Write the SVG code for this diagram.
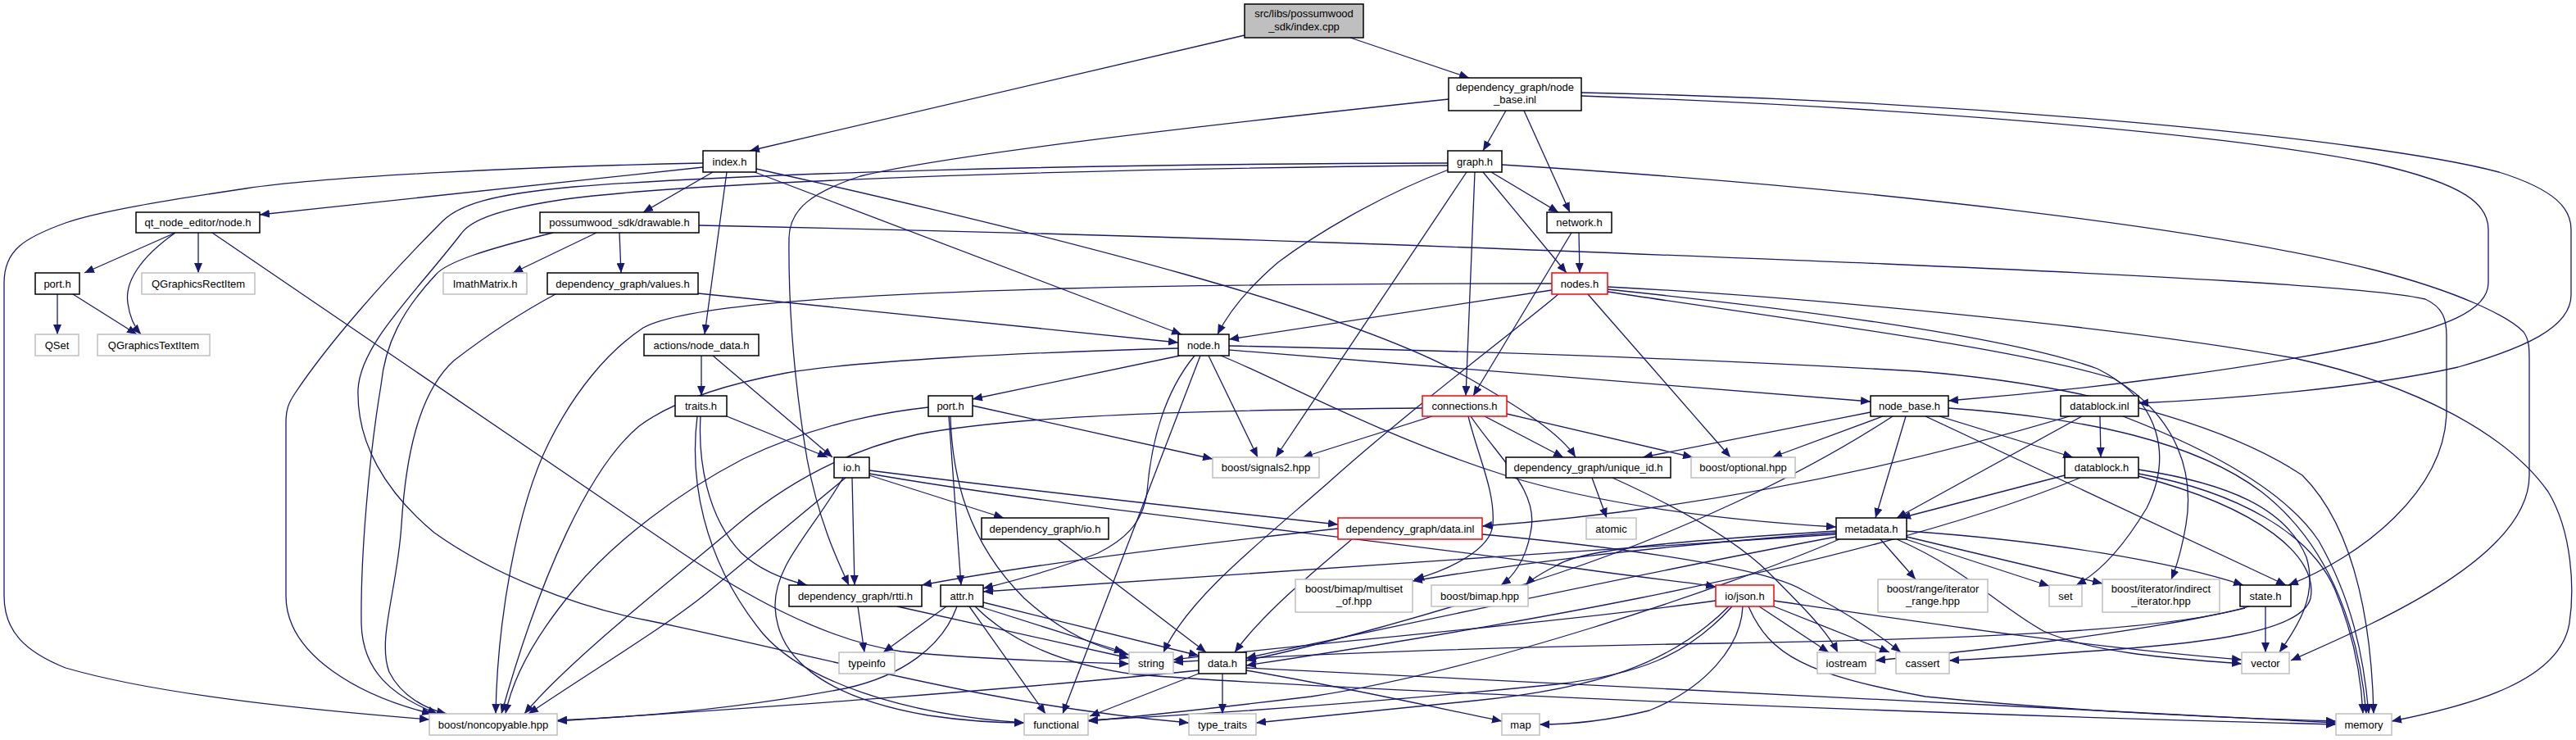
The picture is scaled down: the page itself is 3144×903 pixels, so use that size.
<svg xmlns="http://www.w3.org/2000/svg" width="3144" height="903" viewBox="0 0 3144 903">
<style>
.n rect{fill:#fff;stroke:#000;stroke-width:1.5}
.g rect{stroke:#bfbfbf}
.r rect{stroke:#ff0000}
.s rect{fill:#bfbfbf}
text{font-family:"Liberation Sans",Arial,sans-serif;font-size:13px;text-anchor:middle;fill:#000}
.e path{fill:none;stroke:#191970;stroke-width:1.3;marker-end:url(#a)}
</style>
<defs>
<marker id="a" markerWidth="12" markerHeight="10" refX="12" refY="5" orient="auto" markerUnits="userSpaceOnUse"><path d="M0,0 L12,5 L0,10 z" fill="#191970"/></marker>
</defs>
<rect width="3144" height="903" fill="#fff"/>
<g class="e" id="edges">
<path d="M1519,43 L915,184"/>
<path d="M1648,46 L1793,95"/>
<path d="M1838,135 L1810,184"/>
<path d="M1860,135 L1916,259"/>
<path d="M1768,121 C1450,155 1150,190 1050,215 C990,235 964,255 963,290 C962,380 970,470 985,560 C1000,640 1025,690 1036,714"/>
<path d="M1930,117 C2300,130 2700,160 2900,200 C3010,225 3037,250 3037,280 L3037,345 C3037,380 2980,400 2900,418 C2750,450 2550,475 2378,489"/>
<path d="M1930,113 C2400,122 2900,170 3050,210 C3120,232 3138,255 3138,280 L3138,360 C3138,400 3080,425 3000,448 C2880,475 2700,488 2610,492"/>
<path d="M858,204 L317,262"/>
<path d="M858,199 C650,203 400,215 300,230 C200,245 120,258 80,272 C30,290 5,305 5,345 L5,727 C5,770 30,795 80,815 C200,850 400,868 524,878"/>
<path d="M870,210 L785,259"/>
<path d="M887,210 L860,408"/>
<path d="M921,210 L1442,408"/>
<path d="M923,206 C1300,290 1650,380 1790,460 C1860,500 1905,530 1923,558"/>
<path d="M1767,199 C1300,200 900,212 700,228 C600,237 560,250 540,270 C470,340 400,420 360,480 C352,492 349,500 349,515 L349,727 C349,800 440,850 527,871"/>
<path d="M1767,202 C1300,206 850,222 690,243 C610,255 575,268 563,285 C505,360 440,420 437,475 C435,540 470,600 530,650 C600,700 700,740 790,757 C1000,800 1200,860 1451,882"/>
<path d="M1768,207 C1680,240 1600,290 1560,320 C1525,350 1500,380 1486,408"/>
<path d="M1820,210 L1902,259"/>
<path d="M1810,210 L1912,333"/>
<path d="M1800,210 L1789,483"/>
<path d="M1790,210 L1557,558"/>
<path d="M1833,201 C2300,230 2700,280 2900,330 C3000,356 3060,385 3080,405 C3087,415 3087,425 3087,440 L3087,580 C3087,680 2900,760 2796,806"/>
<path d="M853,275 C1500,288 2000,310 2300,322 C2600,335 2900,350 2960,365 C2982,375 2986,390 2986,410 L2986,500 C2986,600 2880,680 2793,714"/>
<path d="M728,284 L626,333"/>
<path d="M756,284 L758,333"/>
<path d="M675,284 C590,305 545,320 532,335 C490,380 470,420 465,470 C450,560 440,680 441,760 C442,820 480,850 534,871"/>
<path d="M852,358 L1438,418"/>
<path d="M678,359 C620,390 580,420 554,440 C510,480 495,560 490,640 C485,720 460,780 475,820 C490,850 520,865 545,871"/>
<path d="M214,284 L103,333"/>
<path d="M242,284 L242,333"/>
<path d="M214,284 C170,315 152,345 156,370 C158,385 163,398 172,408"/>
<path d="M259,284 L830,673 C900,720 1000,780 1100,795 C1200,805 1300,808 1378,810"/>
<path d="M70,359 L70,408"/>
<path d="M89,359 L167,408"/>
<path d="M856,434 L856,483"/>
<path d="M870,434 L1016,558"/>
<path d="M887,508 L1010,558"/>
<path d="M855,508 C852,560 862,630 905,675 C930,698 960,708 985,714"/>
<path d="M851,508 C842,580 855,680 931,773 C980,830 1100,872 1250,882"/>
<path d="M1894,354 L1500,414"/>
<path d="M1894,346 C1700,346 1500,347 1300,352 C1000,360 830,375 785,400 C740,430 700,480 670,540 C630,620 607,760 605,871"/>
<path d="M1938,359 L2112,558"/>
<path d="M1902,359 C1860,395 1720,500 1620,590 C1540,660 1450,730 1420,796"/>
<path d="M1962,350 C2200,362 2600,400 2800,437 C2950,470 3060,530 3110,600 C3140,650 3142,720 3136,760 C3125,830 3020,860 2919,880"/>
<path d="M1962,353 C2200,378 2450,410 2560,450 C2640,490 2650,560 2620,620 C2590,670 2560,700 2534,714"/>
<path d="M1962,356 C2200,392 2460,425 2580,462 C2660,510 2678,580 2668,640 C2662,675 2655,695 2650,707"/>
<path d="M1927,284 L1928,333"/>
<path d="M1918,284 L1798,483"/>
<path d="M1748,508 L1590,558"/>
<path d="M1812,508 L1908,558"/>
<path d="M1839,505 L2066,558"/>
<path d="M1792,508 C1805,560 1825,600 1822,640 C1820,670 1770,695 1726,707"/>
<path d="M1795,508 C1830,560 1880,600 1868,650 C1862,685 1845,705 1832,714"/>
<path d="M1736,498 C1500,500 1250,505 1120,530 C1030,550 960,590 900,640 C830,700 700,800 640,871"/>
<path d="M1440,434 L1187,487"/>
<path d="M1475,434 L1535,558"/>
<path d="M1465,434 L1297,871"/>
<path d="M1458,434 C1420,480 1405,540 1400,600 C1395,640 1370,660 1340,675 C1290,695 1240,708 1200,718"/>
<path d="M1438,425 C1250,430 1050,440 960,455 C880,470 820,490 780,520 C720,570 660,700 612,871"/>
<path d="M1500,427 C1800,450 2100,475 2283,490"/>
<path d="M1490,434 C1560,462 1680,530 1837,580 C1950,615 2100,635 2241,643"/>
<path d="M1500,422 C1900,430 2200,445 2340,453 C2550,470 2720,520 2810,580 C2880,650 2895,780 2897,871"/>
<path d="M1187,495 L1480,560"/>
<path d="M1158,508 L1173,714"/>
<path d="M1160,508 C1162,580 1180,660 1250,730 C1300,775 1340,790 1378,799"/>
<path d="M1133,497 C1060,505 980,525 907,560 C830,600 750,660 700,720 C650,780 625,830 617,871"/>
<path d="M1061,580 L1225,632"/>
<path d="M1061,574 C1250,598 1450,620 1633,640"/>
<path d="M1061,578 C1300,620 1700,660 1900,690 C2000,705 2060,710 2094,716"/>
<path d="M1040,583 L1043,714"/>
<path d="M1029,583 C990,650 945,690 946,740 C948,800 1000,850 1133,873 C1180,880 1220,882 1250,882"/>
<path d="M1032,583 L867,720 C820,760 720,820 645,871"/>
<path d="M1291,658 L1472,796"/>
<path d="M1633,645 C1450,665 1250,690 1125,714"/>
<path d="M1650,658 C1600,700 1540,750 1507,796"/>
<path d="M1809,652 C1950,665 2150,690 2200,720 C2260,750 2300,780 2320,796"/>
<path d="M1943,583 L1961,632"/>
<path d="M1968,583 C2050,620 2120,660 2160,700 C2200,740 2230,770 2243,796"/>
<path d="M2283,503 L2005,558"/>
<path d="M2298,508 L2163,558"/>
<path d="M2326,508 L2289,632"/>
<path d="M2367,508 L2530,558"/>
<path d="M2350,508 L2790,714"/>
<path d="M2378,498 C2550,510 2680,540 2760,600 C2850,670 2880,780 2888,871"/>
<path d="M2310,508 C2200,580 2050,650 1900,700 C1750,750 1600,790 1521,806"/>
<path d="M2563,508 L2564,558"/>
<path d="M2526,508 C2350,560 2100,620 1809,642"/>
<path d="M2541,508 L2315,632"/>
<path d="M2591,508 C2700,550 2790,600 2830,660 C2870,730 2885,800 2891,871"/>
<path d="M2520,580 L2320,632"/>
<path d="M2539,583 C2400,640 2200,690 2000,730 C1800,770 1600,800 1521,812"/>
<path d="M2610,573 C2720,590 2790,620 2815,680 C2830,730 2800,770 2782,796"/>
<path d="M2610,578 C2730,600 2820,650 2850,720 C2875,780 2882,830 2884,871"/>
<path d="M2610,581 C2760,620 2830,680 2820,730 C2810,770 2700,785 2545,795 C2480,800 2420,804 2379,806"/>
<path d="M2295,658 L2338,707"/>
<path d="M2326,658 L2501,715"/>
<path d="M2327,655 L2566,712"/>
<path d="M2327,648 C2500,660 2650,685 2738,714"/>
<path d="M2315,658 C2400,695 2440,740 2494,770 C2560,800 2680,805 2736,810"/>
<path d="M2241,648 C2050,660 1930,670 1900,690 C1880,700 1868,708 1862,714"/>
<path d="M2241,650 C2000,668 1850,688 1724,709"/>
<path d="M2241,652 C1900,675 1500,700 1200,722"/>
<path d="M2241,655 C2000,700 1700,765 1521,803"/>
<path d="M2245,658 C2100,720 1800,820 1600,850 C1450,868 1380,875 1328,880"/>
<path d="M2147,740 L2232,796"/>
<path d="M2165,740 L2306,796"/>
<path d="M2094,733 C1900,760 1600,785 1432,805"/>
<path d="M2165,733 C2350,760 2550,790 2736,805"/>
<path d="M2127,740 C2125,790 2080,840 2013,867 C1960,880 1920,884 1879,884"/>
<path d="M2114,740 C2060,800 2000,823 1900,835 C1700,855 1500,870 1328,879"/>
<path d="M2110,740 C2040,810 1950,840 1800,855 C1700,865 1600,875 1533,882"/>
<path d="M2134,740 C2160,800 2205,823 2350,850 C2550,870 2750,877 2851,880"/>
<path d="M1463,818 C1200,845 900,865 680,880"/>
<path d="M1463,822 L1330,874"/>
<path d="M1492,822 L1492,871"/>
<path d="M1521,818 C1650,840 1760,865 1833,880"/>
<path d="M1521,815 C1900,830 2400,860 2851,882"/>
<path d="M1155,740 L1078,796"/>
<path d="M1195,740 L1372,796"/>
<path d="M1200,735 L1463,800"/>
<path d="M1183,740 L1276,871"/>
<path d="M1168,740 C1150,790 1100,825 1032,840 C900,865 780,875 680,879"/>
<path d="M1190,740 C1230,780 1290,810 1385,823 C1600,840 2300,870 2851,884"/>
<path d="M1047,740 L1055,796"/>
<path d="M1095,740 L1378,803"/>
<path d="M2765,740 L2765,796"/>
<path d="M2745,740 C2650,770 2400,780 2100,785 C1800,790 1600,798 1432,808"/>
<path d="M2740,742 C2600,775 2400,795 2289,806"/>
</g>
<g id="n_src" class="n s"><rect x="1519" y="5" width="145" height="41"/><text x="1591.5" y="21">src/libs/possumwood</text><text x="1591.5" y="37">_sdk/index.cpp</text></g>
<g id="n_node_base_inl" class="n"><rect x="1768" y="95" width="162" height="40"/><text x="1849" y="111">dependency_graph/node</text><text x="1849" y="126">_base.inl</text></g>
<g id="n_index_h" class="n"><rect x="858" y="184" width="65" height="26"/><text x="890.5" y="201.5">index.h</text></g>
<g id="n_graph_h" class="n"><rect x="1767" y="184" width="66" height="26"/><text x="1800" y="201.5">graph.h</text></g>
<g id="n_qt_node" class="n"><rect x="166" y="259" width="151" height="25"/><text x="241.5" y="276">qt_node_editor/node.h</text></g>
<g id="n_drawable" class="n"><rect x="659" y="259" width="194" height="25"/><text x="756" y="276">possumwood_sdk/drawable.h</text></g>
<g id="n_network" class="n"><rect x="1888" y="259" width="79" height="25"/><text x="1927.5" y="276">network.h</text></g>
<g id="n_port_l" class="n"><rect x="43" y="333" width="54" height="26"/><text x="70" y="350.5">port.h</text></g>
<g id="n_qrect" class="n g"><rect x="173" y="333" width="138" height="26"/><text x="242" y="350.5">QGraphicsRectItem</text></g>
<g id="n_imath" class="n g"><rect x="541" y="333" width="102" height="26"/><text x="592" y="350.5">ImathMatrix.h</text></g>
<g id="n_values" class="n"><rect x="668" y="333" width="184" height="26"/><text x="760" y="350.5">dependency_graph/values.h</text></g>
<g id="n_nodes" class="n r"><rect x="1894" y="333" width="68" height="26"/><text x="1928" y="350.5">nodes.h</text></g>
<g id="n_qset" class="n g"><rect x="43" y="408" width="53" height="26"/><text x="69.5" y="425.5">QSet</text></g>
<g id="n_qtext" class="n g"><rect x="119" y="408" width="137" height="26"/><text x="187.5" y="425.5">QGraphicsTextItem</text></g>
<g id="n_node_data" class="n"><rect x="786" y="408" width="140" height="26"/><text x="856" y="425.5">actions/node_data.h</text></g>
<g id="n_node_h" class="n"><rect x="1438" y="408" width="62" height="26"/><text x="1469" y="425.5">node.h</text></g>
<g id="n_traits" class="n"><rect x="824" y="483" width="63" height="25"/><text x="855.5" y="500">traits.h</text></g>
<g id="n_port_m" class="n"><rect x="1133" y="483" width="54" height="25"/><text x="1160" y="500">port.h</text></g>
<g id="n_connections" class="n r"><rect x="1736" y="483" width="103" height="25"/><text x="1787.5" y="500">connections.h</text></g>
<g id="n_node_base_h" class="n"><rect x="2283" y="483" width="95" height="25"/><text x="2330.5" y="500">node_base.h</text></g>
<g id="n_datablock_inl" class="n"><rect x="2515" y="483" width="95" height="25"/><text x="2562.5" y="500">datablock.inl</text></g>
<g id="n_io_h" class="n"><rect x="1018" y="558" width="43" height="25"/><text x="1039.5" y="575">io.h</text></g>
<g id="n_signals2" class="n g"><rect x="1480" y="558" width="130" height="25"/><text x="1545" y="575">boost/signals2.hpp</text></g>
<g id="n_unique_id" class="n"><rect x="1838" y="558" width="201" height="25"/><text x="1938.5" y="575">dependency_graph/unique_id.h</text></g>
<g id="n_optional" class="n g"><rect x="2064" y="558" width="127" height="25"/><text x="2127.5" y="575">boost/optional.hpp</text></g>
<g id="n_datablock_h" class="n"><rect x="2520" y="558" width="90" height="25"/><text x="2565" y="575">datablock.h</text></g>
<g id="n_dg_io" class="n"><rect x="1198" y="632" width="155" height="26"/><text x="1275.5" y="649.5">dependency_graph/io.h</text></g>
<g id="n_data_inl" class="n r"><rect x="1633" y="632" width="176" height="26"/><text x="1721" y="649.5">dependency_graph/data.inl</text></g>
<g id="n_atomic" class="n g"><rect x="1936" y="632" width="61" height="26"/><text x="1966.5" y="649.5">atomic</text></g>
<g id="n_metadata" class="n"><rect x="2241" y="632" width="86" height="26"/><text x="2284" y="649.5">metadata.h</text></g>
<g id="n_rtti" class="n"><rect x="963" y="714" width="162" height="26"/><text x="1044" y="731.5">dependency_graph/rtti.h</text></g>
<g id="n_attr" class="n"><rect x="1148" y="714" width="52" height="26"/><text x="1174" y="731.5">attr.h</text></g>
<g id="n_multiset" class="n g"><rect x="1581" y="707" width="143" height="40"/><text x="1652.5" y="723">boost/bimap/multiset</text><text x="1652.5" y="738">_of.hpp</text></g>
<g id="n_bimap" class="n g"><rect x="1747" y="714" width="118" height="26"/><text x="1806" y="731.5">boost/bimap.hpp</text></g>
<g id="n_json" class="n r"><rect x="2094" y="714" width="71" height="26"/><text x="2129.5" y="731.5">io/json.h</text></g>
<g id="n_iter_range" class="n g"><rect x="2292" y="707" width="134" height="40"/><text x="2359" y="723">boost/range/iterator</text><text x="2359" y="738">_range.hpp</text></g>
<g id="n_set" class="n g"><rect x="2501" y="714" width="40" height="26"/><text x="2521" y="731.5">set</text></g>
<g id="n_indirect" class="n g"><rect x="2566" y="707" width="143" height="40"/><text x="2637.5" y="723">boost/iterator/indirect</text><text x="2637.5" y="738">_iterator.hpp</text></g>
<g id="n_state" class="n"><rect x="2734" y="714" width="62" height="26"/><text x="2765" y="731.5">state.h</text></g>
<g id="n_typeinfo" class="n g"><rect x="1024" y="796" width="68" height="26"/><text x="1058" y="813.5">typeinfo</text></g>
<g id="n_string" class="n g"><rect x="1378" y="796" width="54" height="26"/><text x="1405" y="813.5">string</text></g>
<g id="n_data_h" class="n"><rect x="1463" y="796" width="58" height="26"/><text x="1492" y="813.5">data.h</text></g>
<g id="n_iostream" class="n g"><rect x="2218" y="796" width="71" height="26"/><text x="2253.5" y="813.5">iostream</text></g>
<g id="n_cassert" class="n g"><rect x="2314" y="796" width="65" height="26"/><text x="2346.5" y="813.5">cassert</text></g>
<g id="n_vector" class="n g"><rect x="2736" y="796" width="58" height="26"/><text x="2765" y="813.5">vector</text></g>
<g id="n_noncopyable" class="n g"><rect x="524" y="871" width="156" height="26"/><text x="602" y="888.5">boost/noncopyable.hpp</text></g>
<g id="n_functional" class="n g"><rect x="1250" y="871" width="78" height="26"/><text x="1289" y="888.5">functional</text></g>
<g id="n_type_traits" class="n g"><rect x="1451" y="871" width="82" height="26"/><text x="1492" y="888.5">type_traits</text></g>
<g id="n_map" class="n g"><rect x="1833" y="871" width="46" height="26"/><text x="1856" y="888.5">map</text></g>
<g id="n_memory" class="n g"><rect x="2851" y="871" width="68" height="26"/><text x="2885" y="888.5">memory</text></g>
</svg>
